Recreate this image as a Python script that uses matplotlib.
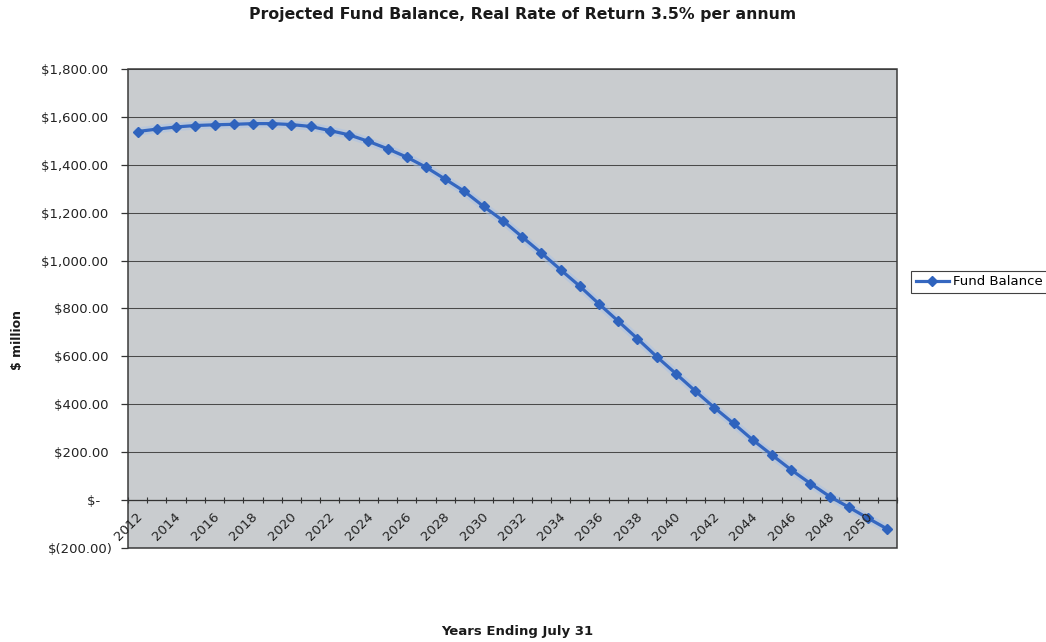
import matplotlib
matplotlib.use("Agg")
import matplotlib.pyplot as plt
from matplotlib.ticker import FuncFormatter, FixedLocator
from matplotlib.patches import Rectangle
import matplotlib.transforms as mtransforms

plt.rcParams["font.family"] = ["DejaVu Sans"]

# Fund balance projection, $ million, years ending July 31
years = list(range(2012, 2052))
balance = [
    1539, 1549, 1558, 1564, 1567, 1569, 1572, 1572, 1568, 1560,
    1543, 1525, 1498, 1467, 1432, 1390, 1340, 1289, 1226, 1167,
    1099, 1032, 962, 893, 819, 747, 674, 599, 528, 456,
    386, 320, 251, 188, 126, 69, 15, -30, -76, -121,
]
y_ticks = [-200, 0, 200, 400, 600, 800, 1000, 1200, 1400, 1600, 1800]
title = "Projected Fund Balance, Real Rate of Return 3.5% per annum"
series_name = "Fund Balance"

fig = plt.figure(figsize=(10.46, 6.42), dpi=100)
fig.patch.set_facecolor("white")
ax = fig.add_axes([128 / 1046, 1 - 548 / 642, (897 - 128) / 1046, (548 - 69) / 642])
ax.set_facecolor("#c9cccf")

x = list(range(len(years)))
line_color = "#3567c0"
# soft halo under the series line
ax.plot(x, balance, color="#a5c0e8", lw=6, alpha=0.45, solid_capstyle="round", zorder=3)
ax.plot(x, balance, color=line_color, lw=2.3, marker="D", markersize=5.5,
        markerfacecolor="#2f63bd", markeredgecolor="#2f63bd", zorder=4, label=series_name)

ax.set_xlim(-0.5, len(years) - 0.5)
ax.set_ylim(-200, 1800)
ax.set_yticks(y_ticks)


def money(v, pos=None):
    if v == 0:
        return "$-   "
    if v < 0:
        return "$({:,.2f})".format(-v)
    return "${:,.2f} ".format(v)


ax.yaxis.set_major_formatter(FuncFormatter(money))
ax.tick_params(axis="y", direction="out", length=5, width=0.9, color="#333333",
               labelsize=9.5, labelcolor="#222222", pad=6)
ax.yaxis.grid(True, color="#4a4a4a", lw=0.75)
ax.set_axisbelow(True)

# category axis crosses the value axis at zero
ax.spines["bottom"].set_position(("data", 0))
ax.spines["bottom"].set_color("#333333")
ax.spines["bottom"].set_linewidth(0.9)
for side in ("top", "right", "left"):
    ax.spines[side].set_visible(False)
ax.add_patch(Rectangle((0, 0), 1, 1, transform=ax.transAxes, fill=False,
                       edgecolor="#3a3a3a", lw=1.1, zorder=5, clip_on=False))

ax.xaxis.set_major_locator(FixedLocator(x[::2]))
ax.set_xticklabels([])
ax.xaxis.set_minor_locator(FixedLocator([i - 0.5 for i in range(len(years) + 1)]))
ax.tick_params(axis="x", which="major", length=0)
ax.tick_params(axis="x", which="minor", direction="inout", length=5, width=0.8, color="#333333")

label_offset = mtransforms.offset_copy(ax.transData, fig=fig, x=-2, y=-10, units="dots")
for i in x[::2]:
    ax.text(i, 0, str(years[i]), transform=label_offset, rotation=45,
            rotation_mode="anchor", ha="right", va="top", fontsize=9.5,
            color="#222222", zorder=6)

fig.text(523 / 1046, 1 - 15 / 642, title, ha="center", va="center",
         fontsize=11.3, fontweight="bold", color="#1a1a1a")
fig.text(517 / 1046, 1 - 632 / 642, "Years Ending July 31", ha="center", va="center",
         fontsize=9.5, fontweight="bold", color="#1a1a1a")
fig.text(18 / 1046, 1 - 340 / 642, "$ million", ha="center", va="center",
         rotation=90, fontsize=9, fontweight="bold", color="#1a1a1a")

leg = fig.legend(loc="center left", bbox_to_anchor=(911 / 1046, 1 - 282 / 642),
                 fontsize=9.5, frameon=True, fancybox=False, handlelength=2.5,
                 borderpad=0.35, handletextpad=0.3, borderaxespad=0)
leg.get_frame().set_edgecolor("#111111")
leg.get_frame().set_linewidth(0.8)

fig.savefig("out.png", dpi=100, facecolor="white")
